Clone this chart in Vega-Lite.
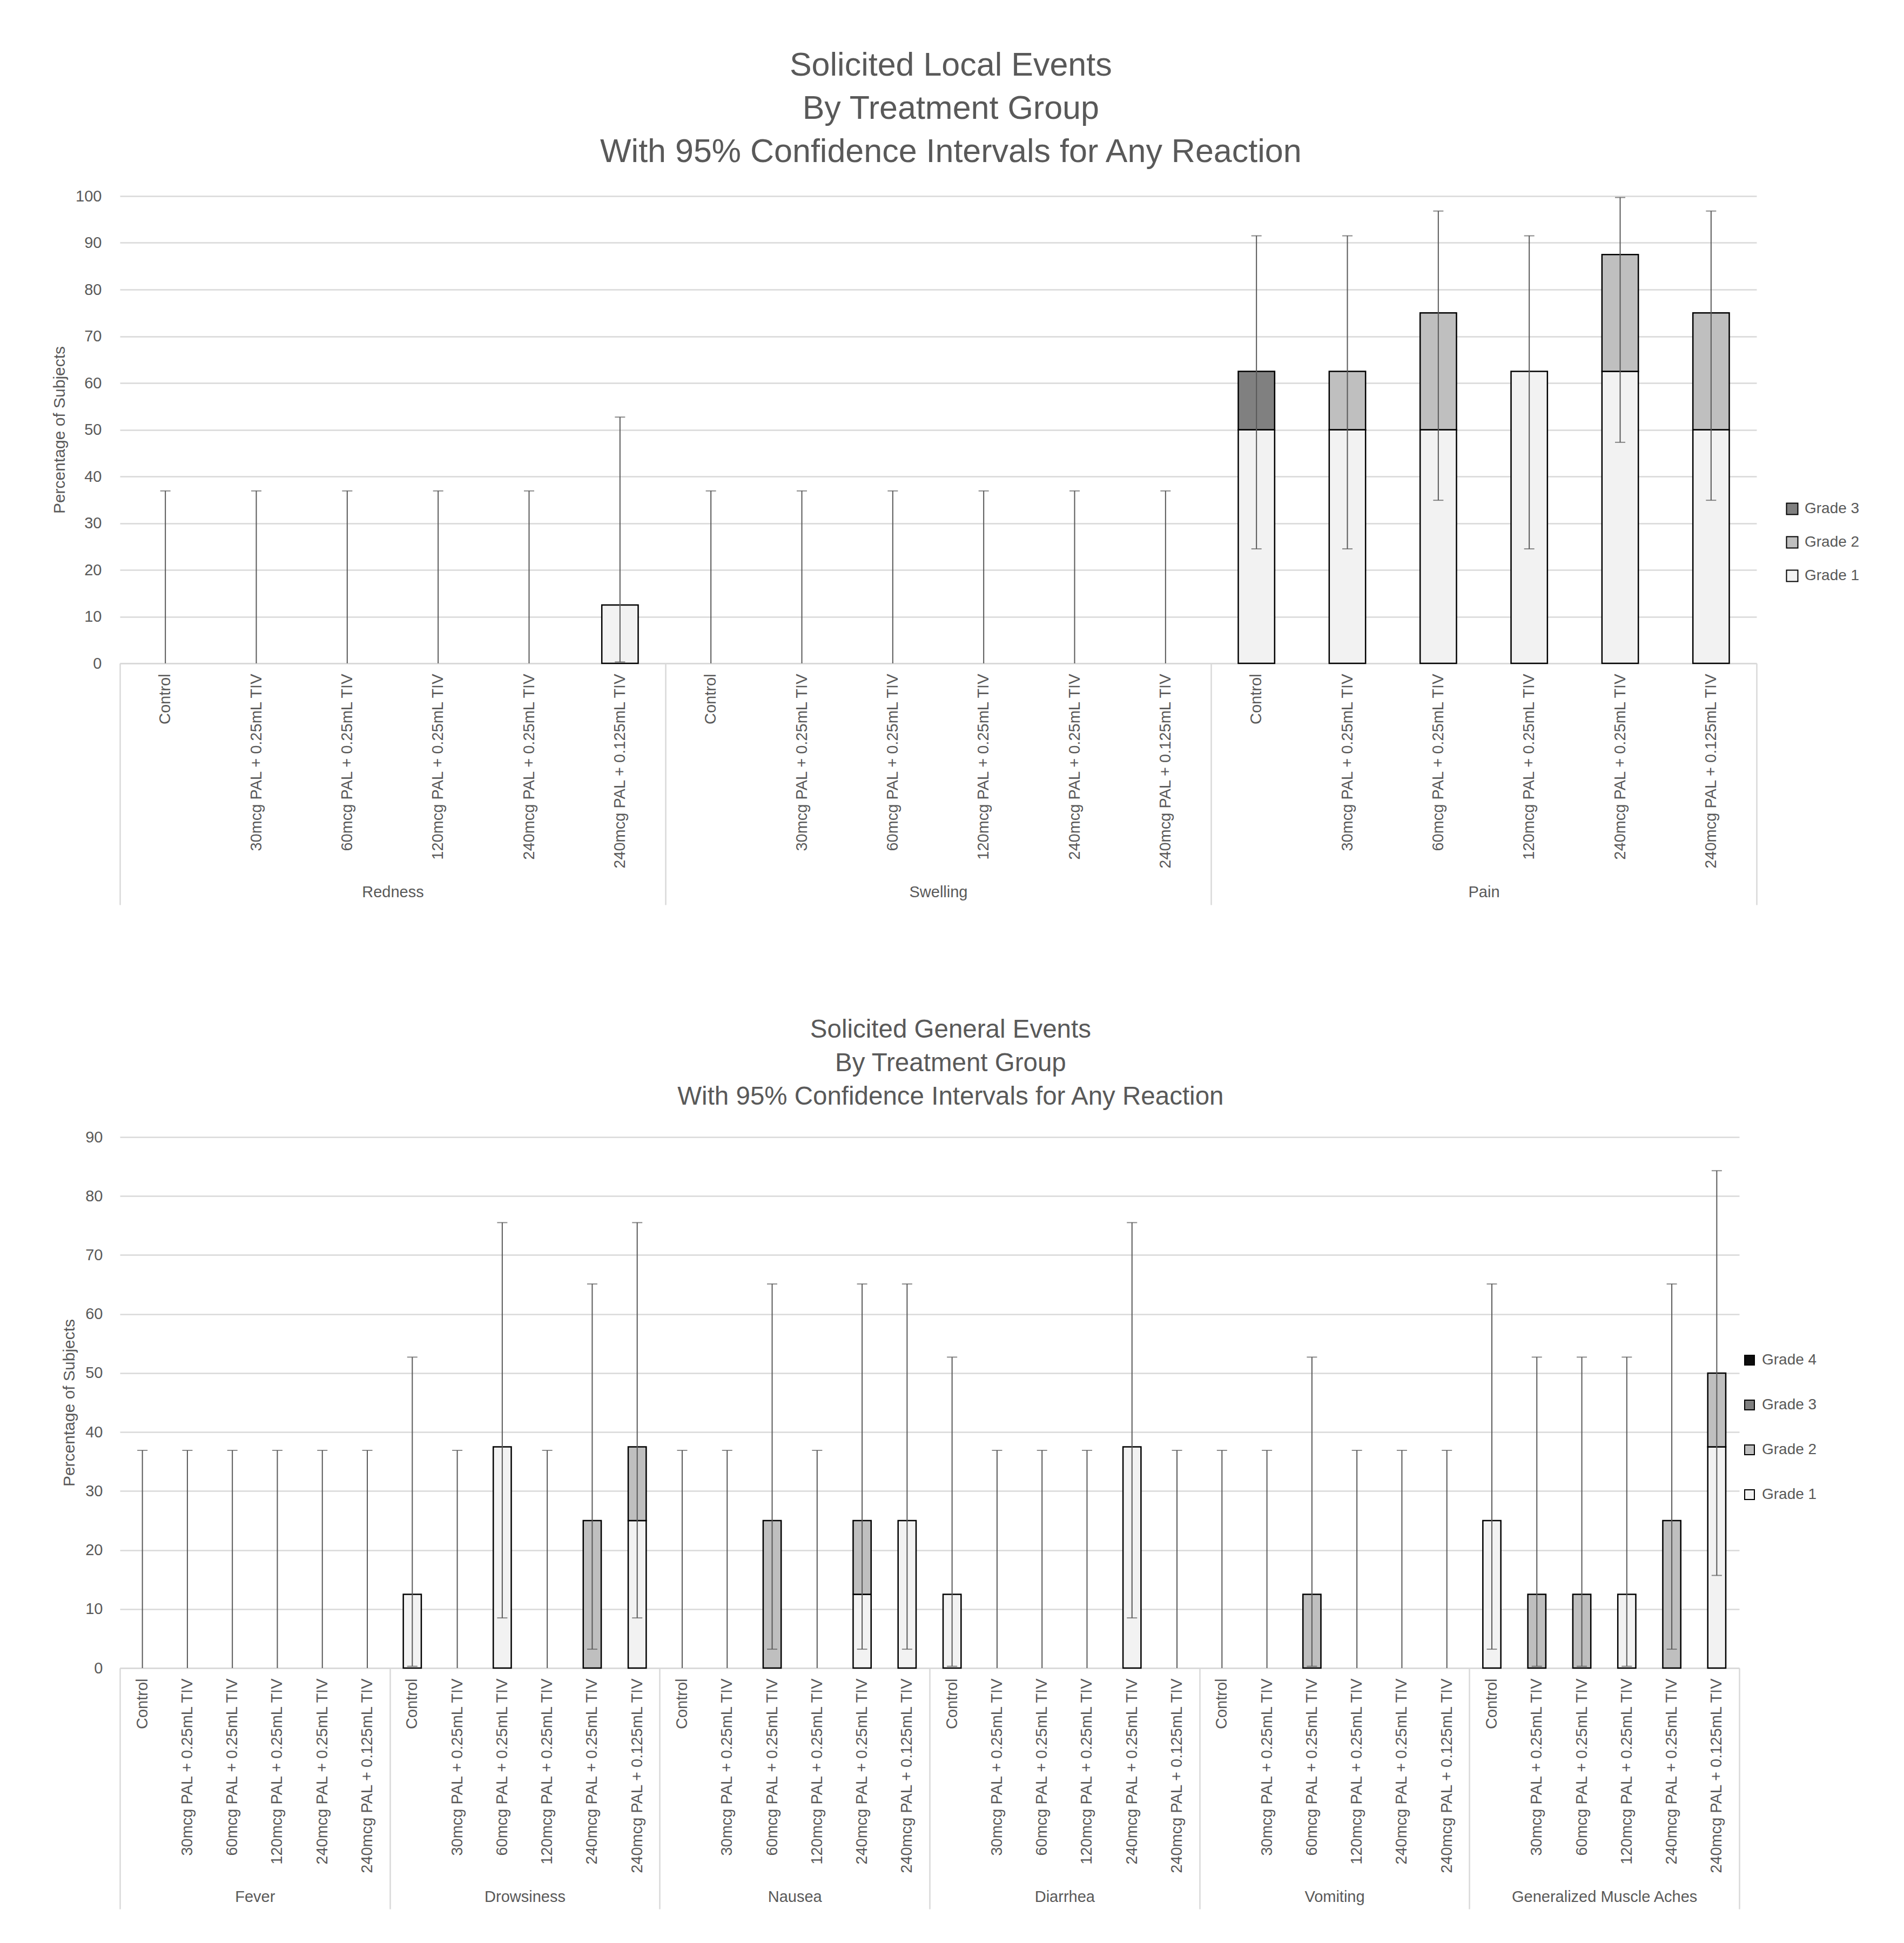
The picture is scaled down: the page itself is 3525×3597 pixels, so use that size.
{
  "$schema": "https://vega.github.io/schema/vega-lite/v6.json",
  "background": "white",
  "padding": {"top": 91, "left": 95, "right": 10, "bottom": 10},
  "spacing": 205,
  "config": {
    "font": "Liberation Sans",
    "view": {"stroke": null},
    "axis": {"labelFont": "Liberation Sans", "labelColor": "#595959", "labelFontSize": 29, "titleFont": "Liberation Sans", "titleColor": "#595959", "titleFontWeight": "normal", "titleFontSize": 30},
    "legend": {"labelFont": "Liberation Sans", "labelColor": "#595959", "labelFontSize": 28, "symbolType": "square", "symbolStrokeColor": "black", "symbolStrokeWidth": 2, "labelOffset": 9, "padding": 0, "orient": "none", "title": null},
    "title": {"font": "Liberation Sans", "color": "#595959", "fontWeight": "normal", "anchor": "middle", "frame": "bounds"}
  },
  "datasets": {
    "localBars": [
      {"cat": "Redness|240mcg PAL + 0.125mL TIV", "grade": "Grade 1", "pct": 12.5},
      {"cat": "Pain|Control", "grade": "Grade 1", "pct": 50},
      {"cat": "Pain|Control", "grade": "Grade 3", "pct": 12.5},
      {"cat": "Pain|30mcg PAL + 0.25mL TIV", "grade": "Grade 1", "pct": 50},
      {"cat": "Pain|30mcg PAL + 0.25mL TIV", "grade": "Grade 2", "pct": 12.5},
      {"cat": "Pain|60mcg PAL + 0.25mL TIV", "grade": "Grade 1", "pct": 50},
      {"cat": "Pain|60mcg PAL + 0.25mL TIV", "grade": "Grade 2", "pct": 25},
      {"cat": "Pain|120mcg PAL + 0.25mL TIV", "grade": "Grade 1", "pct": 62.5},
      {"cat": "Pain|240mcg PAL + 0.25mL TIV", "grade": "Grade 1", "pct": 62.5},
      {"cat": "Pain|240mcg PAL + 0.25mL TIV", "grade": "Grade 2", "pct": 25},
      {"cat": "Pain|240mcg PAL + 0.125mL TIV", "grade": "Grade 1", "pct": 50},
      {"cat": "Pain|240mcg PAL + 0.125mL TIV", "grade": "Grade 2", "pct": 25}
    ],
    "localCI": [
      {"event": "Redness", "treatment": "Control", "lower": 0, "upper": 36.9},
      {"event": "Redness", "treatment": "30mcg PAL + 0.25mL TIV", "lower": 0, "upper": 36.9},
      {"event": "Redness", "treatment": "60mcg PAL + 0.25mL TIV", "lower": 0, "upper": 36.9},
      {"event": "Redness", "treatment": "120mcg PAL + 0.25mL TIV", "lower": 0, "upper": 36.9},
      {"event": "Redness", "treatment": "240mcg PAL + 0.25mL TIV", "lower": 0, "upper": 36.9},
      {"event": "Redness", "treatment": "240mcg PAL + 0.125mL TIV", "lower": 0.3, "upper": 52.7},
      {"event": "Swelling", "treatment": "Control", "lower": 0, "upper": 36.9},
      {"event": "Swelling", "treatment": "30mcg PAL + 0.25mL TIV", "lower": 0, "upper": 36.9},
      {"event": "Swelling", "treatment": "60mcg PAL + 0.25mL TIV", "lower": 0, "upper": 36.9},
      {"event": "Swelling", "treatment": "120mcg PAL + 0.25mL TIV", "lower": 0, "upper": 36.9},
      {"event": "Swelling", "treatment": "240mcg PAL + 0.25mL TIV", "lower": 0, "upper": 36.9},
      {"event": "Swelling", "treatment": "240mcg PAL + 0.125mL TIV", "lower": 0, "upper": 36.9},
      {"event": "Pain", "treatment": "Control", "lower": 24.5, "upper": 91.5},
      {"event": "Pain", "treatment": "30mcg PAL + 0.25mL TIV", "lower": 24.5, "upper": 91.5},
      {"event": "Pain", "treatment": "60mcg PAL + 0.25mL TIV", "lower": 34.9, "upper": 96.8},
      {"event": "Pain", "treatment": "120mcg PAL + 0.25mL TIV", "lower": 24.5, "upper": 91.5},
      {"event": "Pain", "treatment": "240mcg PAL + 0.25mL TIV", "lower": 47.3, "upper": 99.7},
      {"event": "Pain", "treatment": "240mcg PAL + 0.125mL TIV", "lower": 34.9, "upper": 96.8}
    ],
    "generalBars": [
      {"cat": "Drowsiness|Control", "grade": "Grade 1", "pct": 12.5},
      {"cat": "Drowsiness|60mcg PAL + 0.25mL TIV", "grade": "Grade 1", "pct": 37.5},
      {"cat": "Drowsiness|240mcg PAL + 0.25mL TIV", "grade": "Grade 2", "pct": 25},
      {"cat": "Drowsiness|240mcg PAL + 0.125mL TIV", "grade": "Grade 1", "pct": 25},
      {"cat": "Drowsiness|240mcg PAL + 0.125mL TIV", "grade": "Grade 2", "pct": 12.5},
      {"cat": "Nausea|60mcg PAL + 0.25mL TIV", "grade": "Grade 2", "pct": 25},
      {"cat": "Nausea|240mcg PAL + 0.25mL TIV", "grade": "Grade 1", "pct": 12.5},
      {"cat": "Nausea|240mcg PAL + 0.25mL TIV", "grade": "Grade 2", "pct": 12.5},
      {"cat": "Nausea|240mcg PAL + 0.125mL TIV", "grade": "Grade 1", "pct": 25},
      {"cat": "Diarrhea|Control", "grade": "Grade 1", "pct": 12.5},
      {"cat": "Diarrhea|240mcg PAL + 0.25mL TIV", "grade": "Grade 1", "pct": 37.5},
      {"cat": "Vomiting|60mcg PAL + 0.25mL TIV", "grade": "Grade 2", "pct": 12.5},
      {"cat": "Generalized Muscle Aches|Control", "grade": "Grade 1", "pct": 25},
      {"cat": "Generalized Muscle Aches|30mcg PAL + 0.25mL TIV", "grade": "Grade 2", "pct": 12.5},
      {"cat": "Generalized Muscle Aches|60mcg PAL + 0.25mL TIV", "grade": "Grade 2", "pct": 12.5},
      {"cat": "Generalized Muscle Aches|120mcg PAL + 0.25mL TIV", "grade": "Grade 1", "pct": 12.5},
      {"cat": "Generalized Muscle Aches|240mcg PAL + 0.25mL TIV", "grade": "Grade 2", "pct": 25},
      {"cat": "Generalized Muscle Aches|240mcg PAL + 0.125mL TIV", "grade": "Grade 1", "pct": 37.5},
      {"cat": "Generalized Muscle Aches|240mcg PAL + 0.125mL TIV", "grade": "Grade 2", "pct": 12.5}
    ],
    "generalCI": [
      {"event": "Fever", "treatment": "Control", "lower": 0, "upper": 36.9},
      {"event": "Fever", "treatment": "30mcg PAL + 0.25mL TIV", "lower": 0, "upper": 36.9},
      {"event": "Fever", "treatment": "60mcg PAL + 0.25mL TIV", "lower": 0, "upper": 36.9},
      {"event": "Fever", "treatment": "120mcg PAL + 0.25mL TIV", "lower": 0, "upper": 36.9},
      {"event": "Fever", "treatment": "240mcg PAL + 0.25mL TIV", "lower": 0, "upper": 36.9},
      {"event": "Fever", "treatment": "240mcg PAL + 0.125mL TIV", "lower": 0, "upper": 36.9},
      {"event": "Drowsiness", "treatment": "Control", "lower": 0.3, "upper": 52.7},
      {"event": "Drowsiness", "treatment": "30mcg PAL + 0.25mL TIV", "lower": 0, "upper": 36.9},
      {"event": "Drowsiness", "treatment": "60mcg PAL + 0.25mL TIV", "lower": 8.5, "upper": 75.5},
      {"event": "Drowsiness", "treatment": "120mcg PAL + 0.25mL TIV", "lower": 0, "upper": 36.9},
      {"event": "Drowsiness", "treatment": "240mcg PAL + 0.25mL TIV", "lower": 3.2, "upper": 65.1},
      {"event": "Drowsiness", "treatment": "240mcg PAL + 0.125mL TIV", "lower": 8.5, "upper": 75.5},
      {"event": "Nausea", "treatment": "Control", "lower": 0, "upper": 36.9},
      {"event": "Nausea", "treatment": "30mcg PAL + 0.25mL TIV", "lower": 0, "upper": 36.9},
      {"event": "Nausea", "treatment": "60mcg PAL + 0.25mL TIV", "lower": 3.2, "upper": 65.1},
      {"event": "Nausea", "treatment": "120mcg PAL + 0.25mL TIV", "lower": 0, "upper": 36.9},
      {"event": "Nausea", "treatment": "240mcg PAL + 0.25mL TIV", "lower": 3.2, "upper": 65.1},
      {"event": "Nausea", "treatment": "240mcg PAL + 0.125mL TIV", "lower": 3.2, "upper": 65.1},
      {"event": "Diarrhea", "treatment": "Control", "lower": 0.3, "upper": 52.7},
      {"event": "Diarrhea", "treatment": "30mcg PAL + 0.25mL TIV", "lower": 0, "upper": 36.9},
      {"event": "Diarrhea", "treatment": "60mcg PAL + 0.25mL TIV", "lower": 0, "upper": 36.9},
      {"event": "Diarrhea", "treatment": "120mcg PAL + 0.25mL TIV", "lower": 0, "upper": 36.9},
      {"event": "Diarrhea", "treatment": "240mcg PAL + 0.25mL TIV", "lower": 8.5, "upper": 75.5},
      {"event": "Diarrhea", "treatment": "240mcg PAL + 0.125mL TIV", "lower": 0, "upper": 36.9},
      {"event": "Vomiting", "treatment": "Control", "lower": 0, "upper": 36.9},
      {"event": "Vomiting", "treatment": "30mcg PAL + 0.25mL TIV", "lower": 0, "upper": 36.9},
      {"event": "Vomiting", "treatment": "60mcg PAL + 0.25mL TIV", "lower": 0.3, "upper": 52.7},
      {"event": "Vomiting", "treatment": "120mcg PAL + 0.25mL TIV", "lower": 0, "upper": 36.9},
      {"event": "Vomiting", "treatment": "240mcg PAL + 0.25mL TIV", "lower": 0, "upper": 36.9},
      {"event": "Vomiting", "treatment": "240mcg PAL + 0.125mL TIV", "lower": 0, "upper": 36.9},
      {"event": "Generalized Muscle Aches", "treatment": "Control", "lower": 3.2, "upper": 65.1},
      {"event": "Generalized Muscle Aches", "treatment": "30mcg PAL + 0.25mL TIV", "lower": 0.3, "upper": 52.7},
      {"event": "Generalized Muscle Aches", "treatment": "60mcg PAL + 0.25mL TIV", "lower": 0.3, "upper": 52.7},
      {"event": "Generalized Muscle Aches", "treatment": "120mcg PAL + 0.25mL TIV", "lower": 0.3, "upper": 52.7},
      {"event": "Generalized Muscle Aches", "treatment": "240mcg PAL + 0.25mL TIV", "lower": 3.2, "upper": 65.1},
      {"event": "Generalized Muscle Aches", "treatment": "240mcg PAL + 0.125mL TIV", "lower": 15.7, "upper": 84.3}
    ]
  },
  "resolve": {"scale": {"color": "independent", "xOffset": "independent"}, "legend": {"color": "independent"}},
  "vconcat": [
    {
      "width": 3030,
      "height": 865,
      "title": {"text": ["Solicited Local Events", "By Treatment Group", "With 95% Confidence Intervals for Any Reaction"], "fontSize": 61, "lineHeight": 80, "offset": 36, "dx": -9},
      "layer": [
        {
          "data": {"name": "localBars"},
          "mark": {"type": "bar", "stroke": "black", "strokeWidth": 2.5},
          "encoding": {
            "x": {"field": "cat", "type": "nominal",
              "scale": {"domain": ["Redness|Control", "Redness|30mcg PAL + 0.25mL TIV", "Redness|60mcg PAL + 0.25mL TIV", "Redness|120mcg PAL + 0.25mL TIV", "Redness|240mcg PAL + 0.25mL TIV", "Redness|240mcg PAL + 0.125mL TIV", "Swelling|Control", "Swelling|30mcg PAL + 0.25mL TIV", "Swelling|60mcg PAL + 0.25mL TIV", "Swelling|120mcg PAL + 0.25mL TIV", "Swelling|240mcg PAL + 0.25mL TIV", "Swelling|240mcg PAL + 0.125mL TIV", "Pain|Control", "Pain|30mcg PAL + 0.25mL TIV", "Pain|60mcg PAL + 0.25mL TIV", "Pain|120mcg PAL + 0.25mL TIV", "Pain|240mcg PAL + 0.25mL TIV", "Pain|240mcg PAL + 0.125mL TIV"], "paddingInner": 0.6, "paddingOuter": 0.3},
              "axis": {"orient": "bottom", "title": null, "labelExpr": "split(datum.value, '|')[1]", "labelAngle": -90, "ticks": false, "domain": true, "domainColor": "#D9D9D9", "domainWidth": 2.5, "labelPadding": 19, "labelLimit": 0, "grid": false}},
            "y": {"field": "pct", "type": "quantitative", "stack": "zero",
              "scale": {"domain": [0, 100], "nice": false},
              "axis": {"title": "Percentage of Subjects", "values": [0, 10, 20, 30, 40, 50, 60, 70, 80, 90, 100], "grid": true, "gridColor": "#D9D9D9", "gridWidth": 2.5, "domain": false, "ticks": false, "labelPadding": 34, "titlePadding": 14}},
            "color": {"field": "grade", "type": "nominal",
              "scale": {"domain": ["Grade 3", "Grade 2", "Grade 1"], "range": ["#808080", "#BFBFBF", "#F2F2F2"]},
              "legend": {"legendX": 3082, "legendY": 565, "symbolSize": 441, "rowPadding": 32}},
            "order": {"field": "grade", "sort": "ascending"}
          }
        },
        {
          "data": {"name": "localCI"},
          "encoding": {
            "x": {"field": "event", "type": "nominal",
              "scale": {"domain": ["Redness", "Swelling", "Pain"], "paddingInner": 0, "paddingOuter": 0},
              "axis": {"orient": "bottom", "title": null, "domain": false, "grid": false, "ticks": true, "tickBand": "extent", "tickSize": 447, "tickColor": "#D9D9D9", "tickWidth": 2.5, "labelAngle": 0, "labelPadding": -38, "labelLimit": 0}},
            "xOffset": {"field": "treatment", "type": "nominal",
              "scale": {"domain": ["Control", "30mcg PAL + 0.25mL TIV", "60mcg PAL + 0.25mL TIV", "120mcg PAL + 0.25mL TIV", "240mcg PAL + 0.25mL TIV", "240mcg PAL + 0.125mL TIV"], "paddingInner": 0.6, "paddingOuter": 0.3}}
          },
          "layer": [
            {
              "mark": {"type": "rule", "color": "#595959", "strokeWidth": 2},
              "encoding": {
                "y": {"field": "lower", "type": "quantitative", "scale": {"domain": [0, 100], "nice": false}},
                "y2": {"field": "upper"}
              }
            },
            {
              "mark": {"type": "tick", "orient": "horizontal", "color": "#595959", "size": 19, "thickness": 2},
              "encoding": {
                "y": {"field": "upper", "type": "quantitative", "scale": {"domain": [0, 100], "nice": false}}
              }
            },
            {
              "transform": [{"filter": "datum.lower > 0"}],
              "mark": {"type": "tick", "orient": "horizontal", "color": "#595959", "size": 19, "thickness": 2},
              "encoding": {
                "y": {"field": "lower", "type": "quantitative", "scale": {"domain": [0, 100], "nice": false}}
              }
            }
          ]
        }
      ],
      "resolve": {"scale": {"x": "independent"}, "axis": {"x": "independent"}}
    },
    {
      "width": 2998,
      "height": 983,
      "title": {"text": ["Solicited General Events", "By Treatment Group", "With 95% Confidence Intervals for Any Reaction"], "fontSize": 47.5, "lineHeight": 62, "offset": 37, "dx": 21},
      "layer": [
        {
          "data": {"name": "generalBars"},
          "mark": {"type": "bar", "stroke": "black", "strokeWidth": 2.5},
          "encoding": {
            "x": {"field": "cat", "type": "nominal",
              "scale": {"domain": ["Fever|Control", "Fever|30mcg PAL + 0.25mL TIV", "Fever|60mcg PAL + 0.25mL TIV", "Fever|120mcg PAL + 0.25mL TIV", "Fever|240mcg PAL + 0.25mL TIV", "Fever|240mcg PAL + 0.125mL TIV", "Drowsiness|Control", "Drowsiness|30mcg PAL + 0.25mL TIV", "Drowsiness|60mcg PAL + 0.25mL TIV", "Drowsiness|120mcg PAL + 0.25mL TIV", "Drowsiness|240mcg PAL + 0.25mL TIV", "Drowsiness|240mcg PAL + 0.125mL TIV", "Nausea|Control", "Nausea|30mcg PAL + 0.25mL TIV", "Nausea|60mcg PAL + 0.25mL TIV", "Nausea|120mcg PAL + 0.25mL TIV", "Nausea|240mcg PAL + 0.25mL TIV", "Nausea|240mcg PAL + 0.125mL TIV", "Diarrhea|Control", "Diarrhea|30mcg PAL + 0.25mL TIV", "Diarrhea|60mcg PAL + 0.25mL TIV", "Diarrhea|120mcg PAL + 0.25mL TIV", "Diarrhea|240mcg PAL + 0.25mL TIV", "Diarrhea|240mcg PAL + 0.125mL TIV", "Vomiting|Control", "Vomiting|30mcg PAL + 0.25mL TIV", "Vomiting|60mcg PAL + 0.25mL TIV", "Vomiting|120mcg PAL + 0.25mL TIV", "Vomiting|240mcg PAL + 0.25mL TIV", "Vomiting|240mcg PAL + 0.125mL TIV", "Generalized Muscle Aches|Control", "Generalized Muscle Aches|30mcg PAL + 0.25mL TIV", "Generalized Muscle Aches|60mcg PAL + 0.25mL TIV", "Generalized Muscle Aches|120mcg PAL + 0.25mL TIV", "Generalized Muscle Aches|240mcg PAL + 0.25mL TIV", "Generalized Muscle Aches|240mcg PAL + 0.125mL TIV"], "paddingInner": 0.6, "paddingOuter": 0.3},
              "axis": {"orient": "bottom", "title": null, "labelExpr": "split(datum.value, '|')[1]", "labelAngle": -90, "ticks": false, "domain": true, "domainColor": "#D9D9D9", "domainWidth": 2.5, "labelPadding": 19, "labelLimit": 0, "grid": false}},
            "y": {"field": "pct", "type": "quantitative", "stack": "zero",
              "scale": {"domain": [0, 90], "nice": false},
              "axis": {"title": "Percentage of Subjects", "values": [0, 10, 20, 30, 40, 50, 60, 70, 80, 90], "grid": true, "gridColor": "#D9D9D9", "gridWidth": 2.5, "domain": false, "ticks": false, "labelPadding": 32, "titlePadding": 14}},
            "color": {"field": "grade", "type": "nominal",
              "scale": {"domain": ["Grade 4", "Grade 3", "Grade 2", "Grade 1"], "range": ["#0D0D0D", "#808080", "#BFBFBF", "#F2F2F2"]},
              "legend": {"legendX": 3003, "legendY": 399, "symbolSize": 324, "rowPadding": 55}},
            "order": {"field": "grade", "sort": "ascending"}
          }
        },
        {
          "data": {"name": "generalCI"},
          "encoding": {
            "x": {"field": "event", "type": "nominal",
              "scale": {"domain": ["Fever", "Drowsiness", "Nausea", "Diarrhea", "Vomiting", "Generalized Muscle Aches"], "paddingInner": 0, "paddingOuter": 0},
              "axis": {"orient": "bottom", "title": null, "domain": false, "grid": false, "ticks": true, "tickBand": "extent", "tickSize": 446, "tickColor": "#D9D9D9", "tickWidth": 2.5, "labelAngle": 0, "labelPadding": -37, "labelLimit": 0}},
            "xOffset": {"field": "treatment", "type": "nominal",
              "scale": {"domain": ["Control", "30mcg PAL + 0.25mL TIV", "60mcg PAL + 0.25mL TIV", "120mcg PAL + 0.25mL TIV", "240mcg PAL + 0.25mL TIV", "240mcg PAL + 0.125mL TIV"], "paddingInner": 0.6, "paddingOuter": 0.3}}
          },
          "layer": [
            {
              "mark": {"type": "rule", "color": "#595959", "strokeWidth": 2},
              "encoding": {
                "y": {"field": "lower", "type": "quantitative", "scale": {"domain": [0, 90], "nice": false}},
                "y2": {"field": "upper"}
              }
            },
            {
              "mark": {"type": "tick", "orient": "horizontal", "color": "#595959", "size": 19, "thickness": 2},
              "encoding": {
                "y": {"field": "upper", "type": "quantitative", "scale": {"domain": [0, 90], "nice": false}}
              }
            },
            {
              "transform": [{"filter": "datum.lower > 0"}],
              "mark": {"type": "tick", "orient": "horizontal", "color": "#595959", "size": 19, "thickness": 2},
              "encoding": {
                "y": {"field": "lower", "type": "quantitative", "scale": {"domain": [0, 90], "nice": false}}
              }
            }
          ]
        }
      ],
      "resolve": {"scale": {"x": "independent"}, "axis": {"x": "independent"}}
    }
  ]
}
